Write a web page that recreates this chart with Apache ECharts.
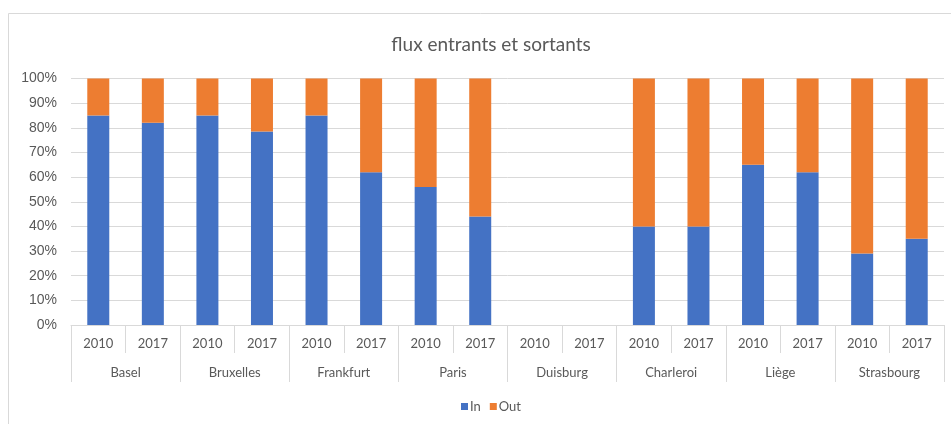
<!DOCTYPE html>
<html>
<head>
<meta charset="utf-8">
<script src="https://cdn.jsdelivr.net/npm/echarts@6/dist/echarts.min.js"></script>
<style>html,body{margin:0;padding:0;background:#fff;}#c{width:951px;height:424px;}</style>
</head>
<body>
<div id="c"></div>
<script>
var years = ['2010','2017','2010','2017','2010','2017','2010','2017','2010','2017','2010','2017','2010','2017','2010','2017'];
var cities = ['Basel','Bruxelles','Frankfurt','Paris','Duisburg','Charleroi','Liège','Strasbourg'];
var inValues = [85, 82, 85, 78.5, 85, 62, 56, 44, null, null, 40, 40, 65, 62, 29, 35];
var outValues = [15, 18, 15, 21.5, 15, 38, 44, 56, null, null, 60, 60, 35, 38, 71, 65];
var yTicks = [0,10,20,30,40,50,60,70,80,90,100];

var FONT = 'Lato';
var TXT = '#595959';
var GRID = '#d9d9d9';
var chart = echarts.init(document.getElementById('c'), null, {renderer:'canvas'});
chart.setOption({
  animation: false,
  backgroundColor: '#fff',
  title: {
    text: 'flux entrants et sortants',
    left: 486, textAlign: 'center', top: 30,
    textStyle: {fontFamily: FONT, fontSize: 19, fontWeight: 'normal', color: TXT}
  },
  legend: {
    left: 456, top: 395,
    icon: 'rect', itemWidth: 7, itemHeight: 7, itemGap: 9,
    textStyle: {fontFamily: FONT, fontSize: 13, color: TXT, padding:[0,0,0,-3]},
    data: ['In','Out']
  },
  grid: {left: 71, right: 7, top: 78.5, bottom: 99, containLabel: false},
  xAxis: [{
    type: 'category', data: years, position: 'bottom',
    axisLine: {show: true, lineStyle: {color: GRID, width: 1}},
    axisTick: {show: true, length: 28, lineStyle: {color: GRID, width: 1}},
    axisLabel: {margin: 12, fontFamily: FONT, fontSize: 13, color: TXT, interval: 0}
  },{
    type: 'category', data: cities, position: 'bottom',
    axisLine: {show: false},
    axisTick: {show: true, length: 57, lineStyle: {color: GRID, width: 1}},
    axisLabel: {margin: 41, fontFamily: FONT, fontSize: 13, color: TXT, interval: 0}
  }],
  yAxis: {
    type: 'value', min: 0, max: 100, interval: 10,
    axisLine: {show: false}, axisTick: {show: false},
    splitLine: {lineStyle: {color: GRID, width: 1}},
    axisLabel: {formatter: function(v){ return yTicks.indexOf(v) >= 0 ? v + '%' : ''; }, margin: 14, fontFamily: 'Liberation Sans', fontSize: 14, color: TXT}
  },
  graphic: [{
    type: 'rect', shape: {x: 8.5, y: 13.5, width: 1000, height: 500},
    style: {fill: 'none', stroke: GRID, lineWidth: 1}, silent: true
  }],
  series: [{
    name: 'In', type: 'bar', stack: 'total', data: inValues, barWidth: 22,
    itemStyle: {color: '#4472C4'}
  },{
    name: 'Out', type: 'bar', stack: 'total', data: outValues, barWidth: 22,
    itemStyle: {color: '#ED7D31'}
  }]
});
</script>
</body>
</html>
